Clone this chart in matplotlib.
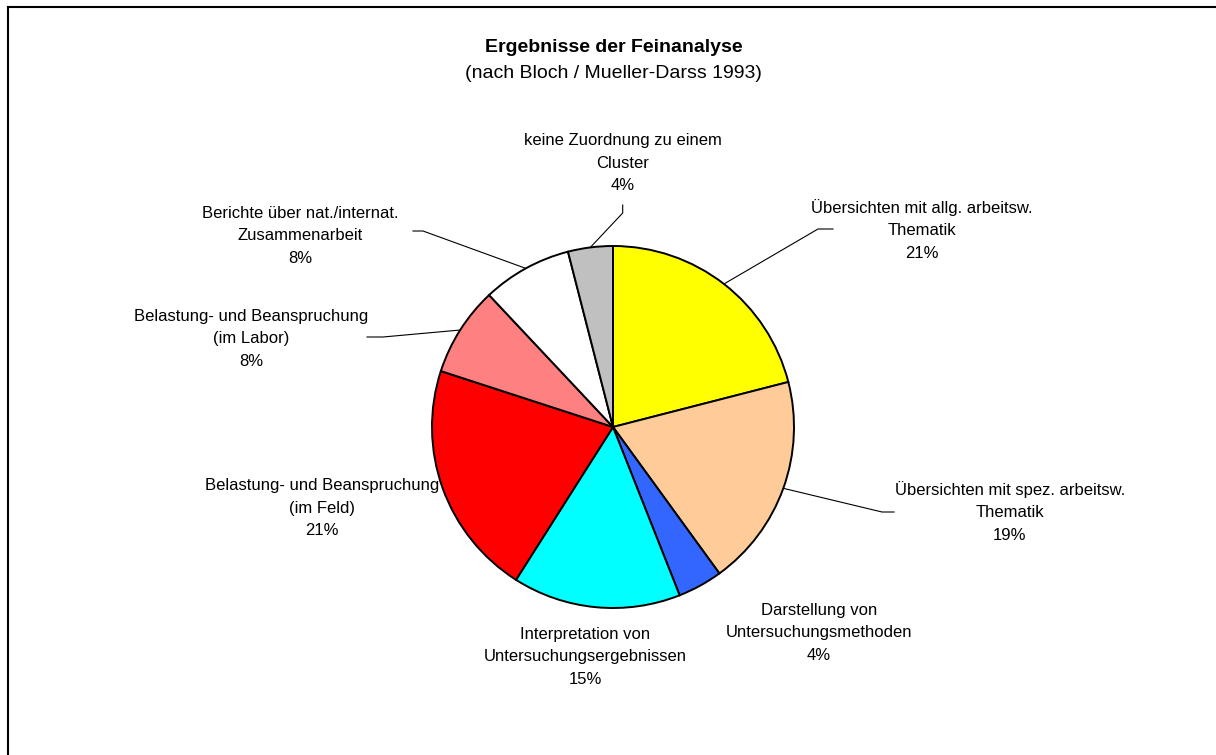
import matplotlib
matplotlib.use("Agg")
import matplotlib.pyplot as plt
import numpy as np
from matplotlib.lines import Line2D

# data (percent)
categories = [
    "Übersichten mit allg. arbeitsw.\nThematik",
    "Übersichten mit spez. arbeitsw.\nThematik",
    "Darstellung von\nUntersuchungsmethoden",
    "Interpretation von\nUntersuchungsergebnissen",
    "Belastung- und Beanspruchung\n(im Feld)",
    "Belastung- und Beanspruchung\n(im Labor)",
    "Berichte über nat./internat.\nZusammenarbeit",
    "keine Zuordnung zu einem\nCluster",
]
values = [21, 19, 4, 15, 21, 8, 8, 4]
colors = ["#FFFF00", "#FFCC99", "#3366FF", "#00FFFF",
          "#FF0000", "#FF8080", "#FFFFFF", "#C0C0C0"]

W, H = 1216, 755
cx, cy, r = 613, 427, 181  # pie centre / radius in pixels

# label centres (pixels) and leader line elbows
label_pos = [(922, 230), (1010, 512), (819, 633), (585, 657),
             (322, 508), (251, 339), (300, 236), (623, 163)]
leaders = {
    0: [(818, 229), (833, 229)],
    1: [(882, 512), (894, 512)],
    5: [(383, 337), (367, 337)],
    6: [(423, 231), (413, 231)],
    7: [(622.7, 213), (622.7, 205)],
}

font = ["Liberation Sans", "DejaVu Sans"]

fig = plt.figure(figsize=(W / 100, H / 100), dpi=100)
ax = fig.add_axes([(cx - r) / W, (H - cy - r) / H, 2 * r / W, 2 * r / H])
wedges, _ = ax.pie(values, colors=colors, startangle=90, counterclock=False,
                   wedgeprops=dict(edgecolor="black", linewidth=1.4), radius=1)
ax.set_xlim(-1, 1)
ax.set_ylim(-1, 1)
ax.axis("off")


def px(x, y):
    return (x - cx) / r, (cy - y) / r


for i, (name, v) in enumerate(zip(categories, values)):
    lx, ly = px(*label_pos[i])
    ax.text(lx, ly, f"{name}\n{v}%", ha="center", va="center",
            fontsize=12, family=font, linespacing=1.66, clip_on=False)
    if i in leaders:
        w = wedges[i]
        m = np.deg2rad((w.theta1 + w.theta2) / 2)
        pts = [(np.cos(m), np.sin(m))] + [px(*p) for p in leaders[i]]
        xs, ys = zip(*pts)
        ax.plot(xs, ys, color="black", lw=0.8, clip_on=False)

fig.text(614 / W, 1 - 47 / H, "Ergebnisse der Feinanalyse", ha="center", va="center",
         fontsize=14, fontweight="bold", family=font)
fig.text(613 / W, 1 - 73 / H, "(nach Bloch / Mueller-Darss 1993)", ha="center", va="center",
         fontsize=14, family=font)

# chart frame (clipped by the image edge on right / bottom)
fig.add_artist(Line2D([8 / W, 8 / W], [0, 1 - 7 / H], color="black", lw=1.5,
                      transform=fig.transFigure))
fig.add_artist(Line2D([8 / W, 1], [1 - 7 / H, 1 - 7 / H], color="black", lw=1.5,
                      transform=fig.transFigure))

fig.savefig("out.png", dpi=100, facecolor="white")
